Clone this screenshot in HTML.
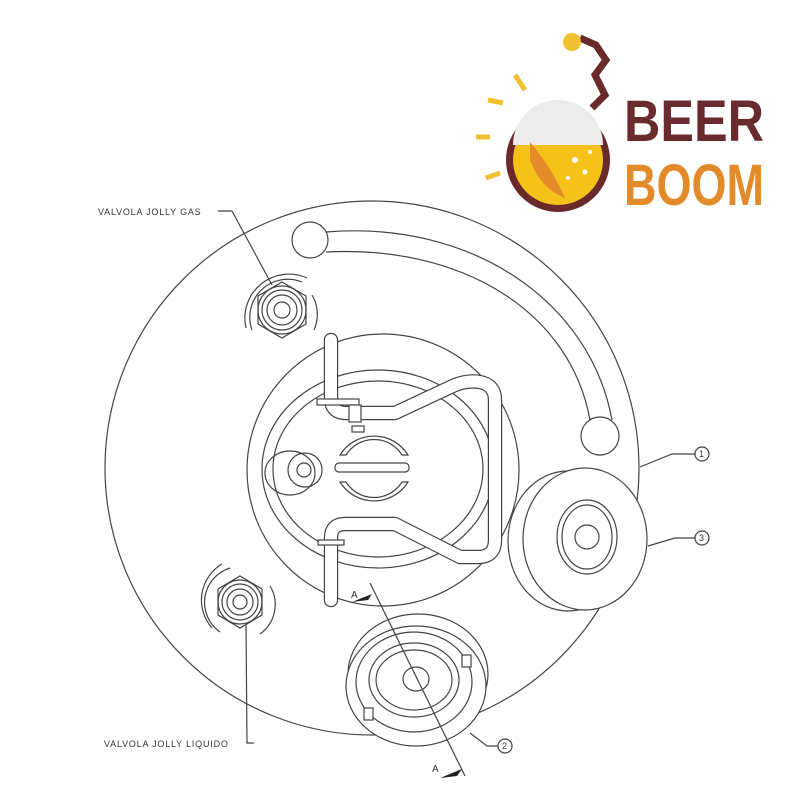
<!DOCTYPE html>
<html><head><style>html,body{margin:0;background:#fff}svg{display:block}</style></head><body>
<svg width="800" height="800" viewBox="0 0 800 800" xmlns="http://www.w3.org/2000/svg" font-family="Liberation Sans, sans-serif">
<g fill="none" stroke="#444" stroke-width="1.2">
<circle cx="372" cy="468" r="267"/>
<circle cx="383" cy="470" r="136"/>
<ellipse cx="378" cy="469" rx="116" ry="99"/>
<ellipse cx="378" cy="469" rx="105" ry="88"/>
<!-- arc tube -->
<path d="M326 232 C470 220 590 300 612 420"/>
<path d="M326 252 C460 245 570 310 590 420"/>
<circle cx="310" cy="240" r="18" fill="#fff"/>
<circle cx="600" cy="436" r="19" fill="#fff"/>
<!-- gas valve -->
<g transform="translate(282,310)">
<path d="M-30 20 A38 38 0 0 1 20 -28"/><path d="M-36 18 A44 44 0 0 1 25 -32"/>
<path d="M30 -15 A38 38 0 0 1 32 20"/>
<polygon points="0,-28 24,-14 24,14 0,28 -24,14 -24,-14"/>
<circle r="24"/><circle r="20"/><circle r="15"/><circle r="8"/>
</g>
<!-- liquid valve -->
<g transform="translate(240,602)">
<path d="M-20 30 A36 36 0 0 1 -10 -34"/><path d="M-28 26 A42 42 0 0 1 -18 -38"/>
<path d="M20 32 A36 36 0 0 0 30 -16"/>
<polygon points="0,-26 22,-13 22,13 0,26 -22,13 -22,-13"/>
<circle r="22"/><circle r="18"/><circle r="13"/><circle r="7"/>
</g>
</g>
<!-- dip tube pipe -->
<path d="M331 340 L331 398 Q331 413 346 413 L395 413 L455 385 Q468 380 480 382 Q495 385 495 400 L495 540 Q495 557 478 557 L460 557 L395 524 L345 524 Q331 524 331 538 L331 600" fill="none" stroke="#444" stroke-width="14.4" stroke-linecap="round" stroke-linejoin="round"/>
<path d="M331 340 L331 398 Q331 413 346 413 L395 413 L455 385 Q468 380 480 382 Q495 385 495 400 L495 540 Q495 557 478 557 L460 557 L395 524 L345 524 Q331 524 331 538 L331 600" fill="none" stroke="#fff" stroke-width="12" stroke-linecap="round" stroke-linejoin="round"/>
<g fill="#fff" stroke="#444" stroke-width="1.2">
<rect x="317" y="399" width="42" height="6"/>
<rect x="349" y="405" width="12" height="17"/>
<rect x="352" y="426" width="12" height="6"/>
<rect x="318" y="540" width="26" height="5"/>
<path d="M340 455 A40 40 0 0 1 408 455 L402 455 A33 33 0 0 0 346 455 Z"/>
<rect x="335" y="463" width="74" height="9" rx="4"/>
<path d="M340 482 A40 40 0 0 0 408 482 L402 482 A33 33 0 0 1 346 482 Z"/>
<ellipse cx="290" cy="473" rx="25" ry="22" fill="none"/>
<circle cx="305" cy="470" r="17" fill="none"/>
<circle cx="304" cy="470" r="7"/>
<!-- right valve 3 -->
<ellipse cx="568" cy="541" rx="60" ry="70"/>
<ellipse cx="585" cy="539" rx="62" ry="71"/>
<ellipse cx="587" cy="537" rx="30" ry="37"/>
<ellipse cx="587" cy="537" rx="25" ry="32"/>
<circle cx="587" cy="537" r="12"/>
<!-- bottom valve 2 -->
<ellipse cx="418" cy="674" rx="70" ry="60"/>
<ellipse cx="416" cy="686" rx="70" ry="60"/>
<ellipse cx="414" cy="682" rx="58" ry="50"/>
<ellipse cx="414" cy="680" rx="45" ry="37"/>
<ellipse cx="414" cy="680" rx="38" ry="30"/>
<ellipse cx="416" cy="679" rx="13" ry="12"/>
<rect x="462" y="655" width="9" height="12"/>
<rect x="364" y="708" width="9" height="12"/>
</g>
<g fill="none" stroke="#444" stroke-width="1.2">
<line x1="370" y1="583" x2="465" y2="776"/>
<polyline points="218,211 232,211 272,285"/>
<polyline points="254,743 247,743 246,624"/>
<polyline points="640,467 672,454 695,454"/>
<polyline points="648,546 675,538 695,538"/>
<polyline points="470,733 487,746 498,746"/>
<circle cx="702" cy="454" r="7"/>
<circle cx="702" cy="538" r="7"/>
<circle cx="505" cy="746" r="7"/>
</g>
<g fill="#222">
<path d="M352 602 L372 594 L368 600 Z"/>
<path d="M440 778 L462 769 L457 776 Z"/>
</g>
<g font-size="9" fill="#333" letter-spacing="0.8">
<text x="98" y="215">VALVOLA JOLLY GAS</text>
<text x="104" y="747">VALVOLA JOLLY LIQUIDO</text>
<text x="351" y="598" font-size="10">A</text>
<text x="432" y="772" font-size="10">A</text>
<text x="699" y="457">1</text>
<text x="699" y="541">3</text>
<text x="502" y="749">2</text>
</g>
<!-- logo -->
<g>
<circle cx="558" cy="160" r="52" fill="#6a2a2a"/>
<circle cx="558" cy="160" r="45" fill="#f5c21a"/>
<path d="M513 145 A45 45 0 0 1 603 145 Z" fill="#ececec"/>
<path d="M530 142 Q552 168 565 198 Q540 188 530 160 Z" fill="#e58b2a"/>
<g fill="#fff"><circle cx="575" cy="160" r="3"/><circle cx="585" cy="172" r="2.5"/><circle cx="568" cy="178" r="2"/><circle cx="590" cy="152" r="2"/></g>
<path d="M592 108 L605 95 L595 75 L606 60 L596 45 L580 38" fill="none" stroke="#6a2a2a" stroke-width="7"/>
<circle cx="572" cy="42" r="9" fill="#f0c030"/>
<path d="M515 75 L525 90 M488 100 L503 103 M476 137 L490 137 M486 178 L500 173" stroke="#f0c030" stroke-width="5"/>
</g>
<text x="624" y="141" font-size="58" font-weight="bold" fill="#6a2b2e" textLength="140" lengthAdjust="spacingAndGlyphs" font-family="Liberation Sans Narrow, Liberation Sans, sans-serif">BEER</text>
<text x="624" y="205" font-size="58" font-weight="bold" fill="#e38a2a" textLength="140" lengthAdjust="spacingAndGlyphs" font-family="Liberation Sans Narrow, Liberation Sans, sans-serif">BOOM</text>
</svg>
</body></html>
